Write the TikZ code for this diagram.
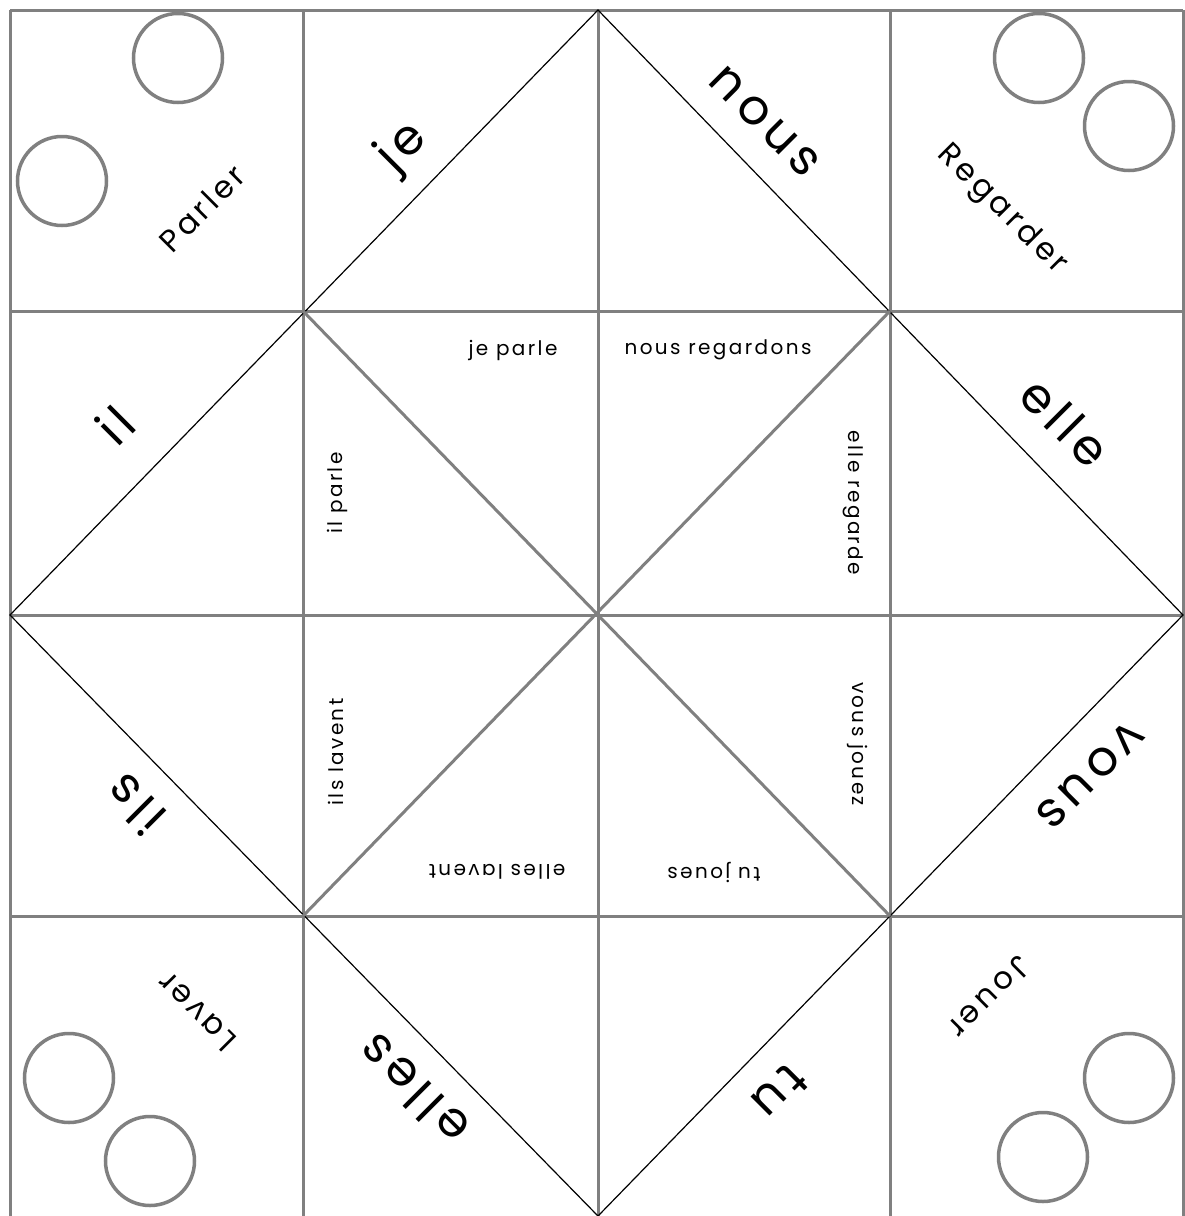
\documentclass[tikz,border=0pt]{standalone}
\usepackage{fontspec}
\newfontfamily\hand[LetterSpace=12]{Poppins}
\begin{document}
\begin{tikzpicture}[x=1pt,y=-1pt,
  gridline/.style={draw=gray, line width=3pt},
  fold/.style={draw=black, line width=1.2pt},
  innerfold/.style={draw=gray, line width=3pt},
  ring/.style={draw=gray, line width=3.5pt, circle, minimum size=89pt, inner sep=0pt},
  big/.style={font=\hand\fontsize{49}{49}\selectfont, inner sep=0pt},
  verb/.style={font=\hand\fontsize{31}{31}\selectfont, inner sep=0pt},
  small/.style={font=\hand\fontsize{20}{20}\selectfont, inner sep=0pt}]
\path[use as bounding box] (0,0) rectangle (1185,1216);
\clip (0,0) rectangle (1185,1216);
\fill[white] (0,0) rectangle (1185,1216);
% grid
\foreach \x in {10,303,598,890,1183} \draw[gridline] (\x,10) -- (\x,1220);
\foreach \y in {10,311,615,916,1218} \draw[gridline] (10,\y) -- (1183,\y);
% corner points
\coordinate (top) at (598,10);
\coordinate (left) at (10,615);
\coordinate (bottom) at (598,1216);
\coordinate (right) at (1183,615);
\coordinate (ul) at (303,311);
\coordinate (ur) at (890,311);
\coordinate (ll) at (303,916);
\coordinate (lr) at (890,916);
% folds
\draw[fold] (top) -- (left) -- (bottom) -- (right) -- cycle;
\draw[innerfold] (ul) -- (lr);
\draw[innerfold] (ur) -- (ll);
% circles
\node[ring] (c1) at (178,58) {};
\node[ring] (c2) at (62,181) {};
\node[ring] (c3) at (1039,58) {};
\node[ring] (c4) at (1129,126) {};
\node[ring] (c5) at (69,1078) {};
\node[ring] (c6) at (150,1161) {};
\node[ring] (c7) at (1129,1078) {};
\node[ring] (c8) at (1043,1157) {};
% verbs
\node[verb, rotate=45] (parler) at (202,208) {Parler};
\node[verb, rotate=-45] (regarder) at (1002,210) {Regarder};
\node[verb, rotate=-135] (jouer) at (990,997) {Jouer};
\node[verb, rotate=135] (laver) at (197,1012) {Laver};
% pronouns
\node[big, rotate=45] (je) at (403,148) {je};
\node[big, rotate=-45] (nous) at (765,122) {nous};
\node[big, rotate=45] (il) at (115,425) {il};
\node[big, rotate=-45] (elle) at (1065,422) {elle};
\node[big, rotate=135] (ils) at (135,805) {ils};
\node[big, rotate=-135] (vous) at (1090,775) {vous};
\node[big, rotate=135] (elles) at (413,1090) {elles};
\node[big, rotate=-135] (tu) at (780,1092) {tu};
% conjugations
\node[small] (jeparle) at (513,350) {je parle};
\node[small] (nousreg) at (718,350) {nous regardons};
\node[small, rotate=90] (ilparle) at (337,493) {il parle};
\node[small, rotate=-90] (ellereg) at (853,503) {elle regarde};
\node[small, rotate=90] (ilslav) at (336,752) {ils lavent};
\node[small, rotate=180] (elleslav) at (497,872) {elles lavent};
\node[small, rotate=180] (tujoues) at (714,872) {tu joues};
\node[small, rotate=-90] (vousjouez) at (858,744) {vous jouez};
\end{tikzpicture}
\end{document}
